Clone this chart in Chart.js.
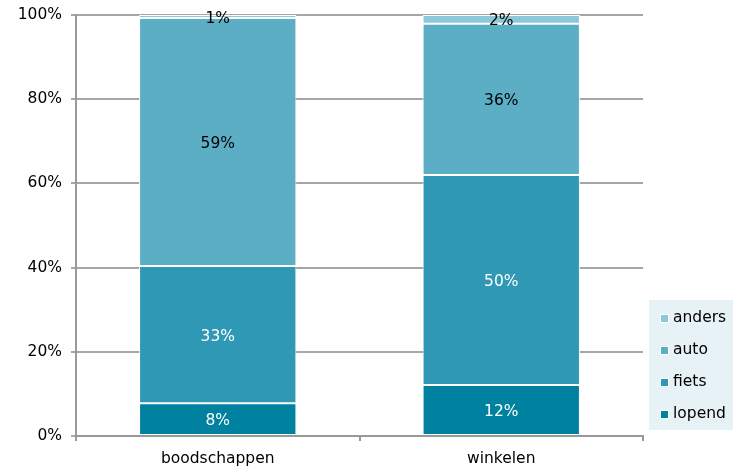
<!DOCTYPE html>
<html>
<head>
<meta charset="utf-8">
<script src="https://cdn.jsdelivr.net/npm/chart.js@4/dist/chart.umd.min.js"></script>
<style>
  html, body { margin: 0; padding: 0; background: #fff; }
  #wrap { width: 733px; height: 468px; }
</style>
</head>
<body>
<div id="wrap"><canvas id="StackedChart"></canvas></div>
<script>
const categories = ['boodschappen', 'winkelen'];
const lopend = [7.8, 12.1];
const fiets = [32.6, 49.9];
const auto = [58.9, 35.9];
const anders = [0.7, 2.1];
const yTicks = [0, 20, 40, 60, 80, 100];

const seriesNames = ['lopend', 'fiets', 'auto', 'anders'];
const seriesColors = ['rgb(0,129,160)', 'rgb(47,152,180)', 'rgb(92,174,196)', 'rgb(140,200,215)'];
const labelColors = ['#fff', '#fff', '#000', '#000'];

const FONT = 'DejaVu Sans';
const FSIZE = 15.5;

// values inside the bars
const barLabels = {
    id: 'barLabels',
    afterDatasetsDraw(chart) {
        const ctx = chart.ctx;
        ctx.save();
        ctx.font = FSIZE + 'px "' + FONT + '"';
        ctx.textAlign = 'center';
        ctx.textBaseline = 'middle';
        chart.data.datasets.forEach((ds, i) => {
            chart.getDatasetMeta(i).data.forEach((bar, j) => {
                const y = (bar.y + bar.base) / 2;
                ctx.fillStyle = labelColors[i];
                ctx.fillText(Math.round(ds.data[j]) + '%', bar.x, y + 2);
            });
        });
        ctx.restore();
    }
};

// legend box on the right, reversed order
const sideLegend = {
    id: 'sideLegend',
    afterDraw(chart) {
        const ctx = chart.ctx;
        ctx.save();
        ctx.fillStyle = '#e6f2f5';
        ctx.fillRect(649, 300, 90, 130);
        ctx.font = FSIZE + 'px "' + FONT + '"';
        ctx.textBaseline = 'middle';
        ctx.textAlign = 'left';
        const ds = chart.data.datasets;
        for (let k = 0; k < ds.length; k++) {
            const i = ds.length - 1 - k;
            const y = 317 + k * 32;
            ctx.fillStyle = '#fff';
            ctx.fillRect(660, y - 3, 9, 9);
            ctx.fillStyle = ds[i].backgroundColor;
            ctx.fillRect(661, y - 2, 7, 7);
            ctx.fillStyle = '#000';
            ctx.fillText(ds[i].label, 673, y + 1);
        }
        ctx.restore();
    }
};

const datasets = [lopend, fiets, auto, anders].map((d, i) => ({
    label: seriesNames[i],
    data: d,
    backgroundColor: seriesColors[i],
    borderColor: '#fff',
    borderWidth: 1,
    borderSkipped: false,
    barPercentage: 0.555,
    categoryPercentage: 1
}));

const ctx = document.getElementById('StackedChart').getContext('2d');
const StackedChart = new Chart(ctx, {
    type: 'bar',
    data: { labels: categories, datasets: datasets },
    options: {
        responsive: true,
        maintainAspectRatio: false,
        animation: false,
        layout: { padding: { top: 15, right: 90, bottom: 0, left: 0 } },
        plugins: { legend: { display: false }, tooltip: { enabled: false } },
        scales: {
            x: {
                stacked: true,
                offset: true,
                grid: { drawOnChartArea: false, drawTicks: true, tickLength: 5, color: '#999', lineWidth: 2, offset: true },
                border: { color: '#999', width: 2 },
                ticks: { color: '#000', padding: 9, font: { family: FONT, size: FSIZE } },
                afterFit: (s) => { s.height = 32; }
            },
            y: {
                stacked: true,
                min: 0,
                max: 100,
                afterBuildTicks: (s) => { s.ticks = yTicks.map(v => ({ value: v })); },
                grid: { color: '#a6a6a6', lineWidth: 2, tickLength: 5 },
                border: { color: '#999', width: 2 },
                ticks: { color: '#000', padding: 9, callback: v => v + '%', font: { family: FONT, size: FSIZE } },
                afterFit: (s) => { s.width = 76; s.paddingTop = 0; s.paddingBottom = 0; }
            }
        }
    },
    plugins: [barLabels, sideLegend]
});
</script>
</body>
</html>
